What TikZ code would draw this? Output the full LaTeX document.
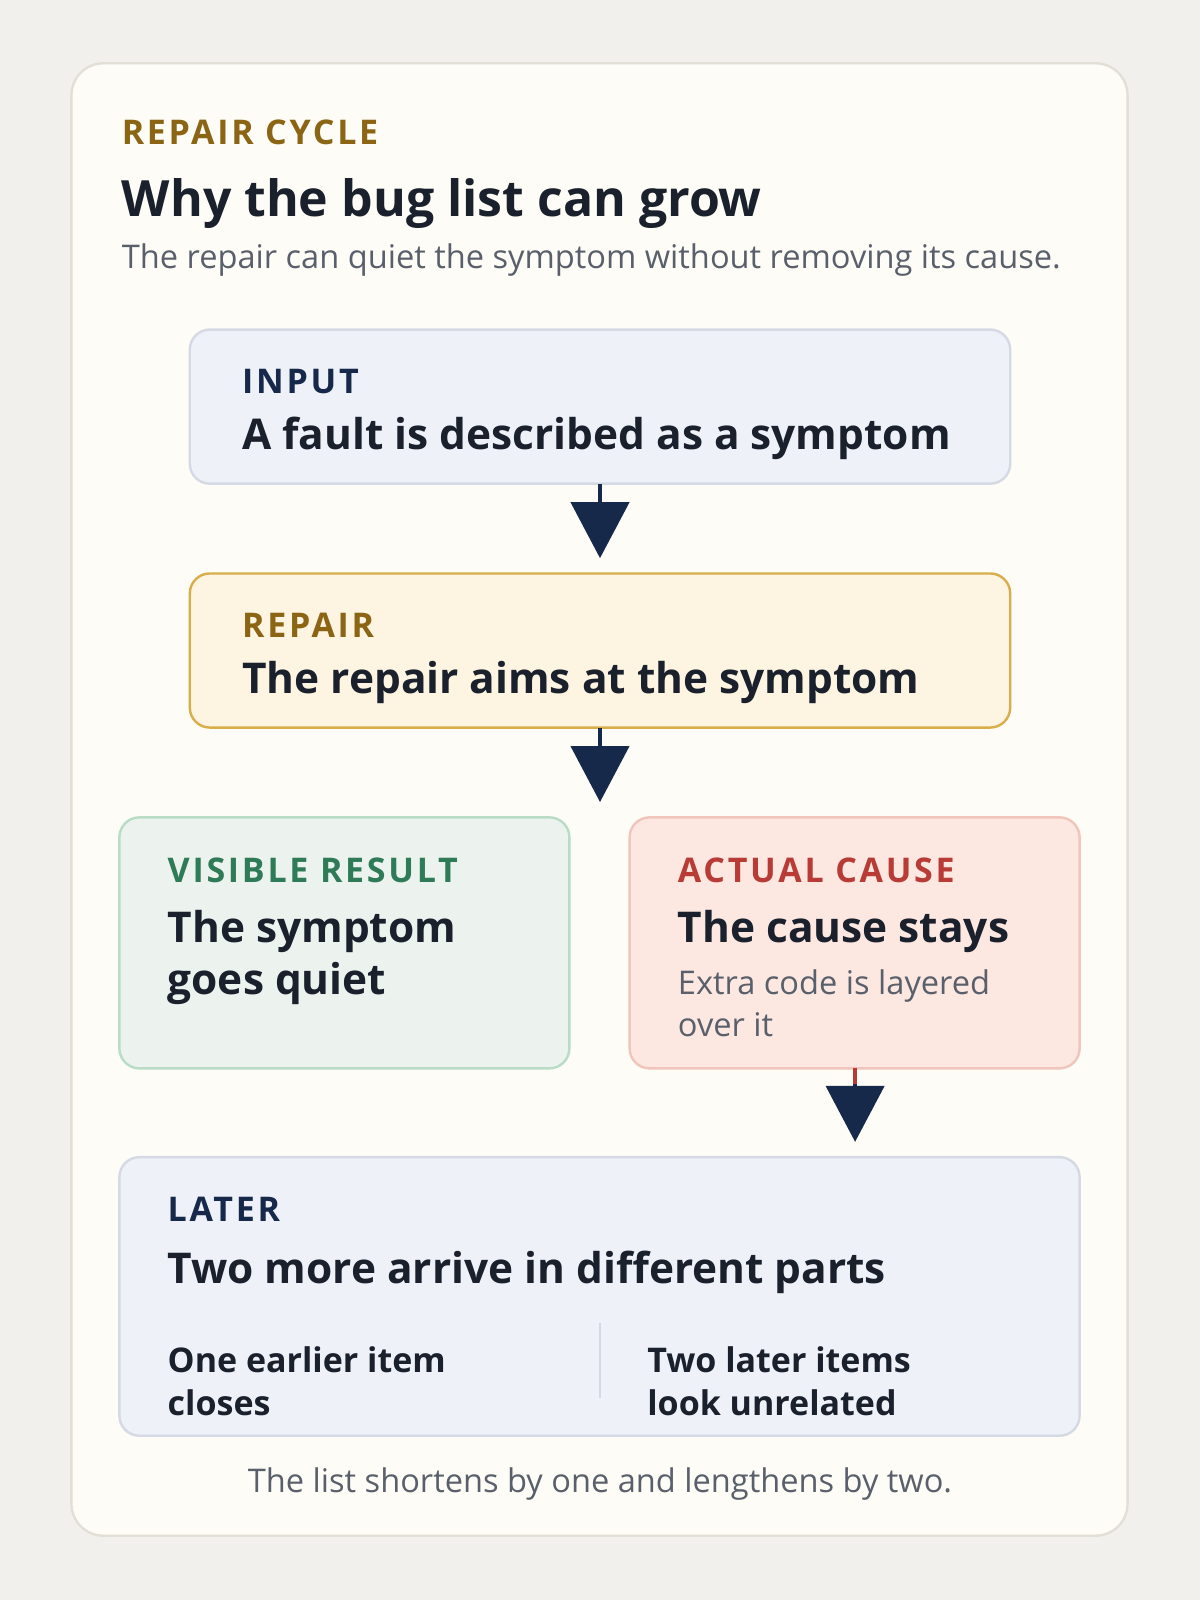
\documentclass[tikz,border=0pt]{standalone}
\usepackage{fontspec}
\setmainfont{Open Sans}
\newfontfamily\lblfont[LetterSpace=8]{Open Sans}
\usetikzlibrary{arrows.meta}
\definecolor{bg}{HTML}{F1F0EC}
\definecolor{card}{HTML}{FDFCF6}
\definecolor{cardb}{HTML}{E2E0D6}
\definecolor{navy}{HTML}{16294A}
\definecolor{ink}{HTML}{1A202C}
\definecolor{gray}{HTML}{5A606B}
\definecolor{gold}{HTML}{8B6414}
\definecolor{bluef}{HTML}{EEF1F8}
\definecolor{blueb}{HTML}{D5D9E4}
\definecolor{yelf}{HTML}{FDF4E1}
\definecolor{yelb}{HTML}{D9AE4A}
\definecolor{grnf}{HTML}{ECF3EE}
\definecolor{grnb}{HTML}{B9DCC6}
\definecolor{grn}{HTML}{2F7A57}
\definecolor{redf}{HTML}{FCE7E1}
\definecolor{redb}{HTML}{F0C6BC}
\definecolor{red}{HTML}{B83C35}
\begin{document}
\begin{tikzpicture}[x=0.5102pt,y=-0.5102pt,
  box/.style={draw, line width=1.2pt, rounded corners=10pt},
  lbl/.style={anchor=base west, inner sep=0pt, font=\lblfont\bfseries\fontsize{17}{20}\selectfont},
  head/.style={anchor=base west, inner sep=0pt, text=ink, font=\bfseries\fontsize{21.2}{26}\selectfont},
  small/.style={anchor=base west, inner sep=0pt, text=ink, font=\bfseries\fontsize{17}{21}\selectfont},
  sub/.style={anchor=base west, inner sep=0pt, text=gray, font=\fontsize{16.3}{20.5}\selectfont},
  arr/.style={line width=2.2pt, navy, -{Triangle[length=28pt,width=29pt]}}]
\useasboundingbox (0,0) rectangle (1176,1568);
\fill[bg] (0,0) rectangle (1176,1568);
\draw[fill=card, draw=cardb, line width=1.2pt, rounded corners=16pt] (70,62) rectangle (1105,1505);
\node[lbl, text=gold] (kick) at (119,142) {REPAIR CYCLE};
\node[head, font=\bfseries\fontsize{25}{28}\selectfont] (title) at (119,212) {Why the bug list can grow};
\node[sub] (subt) at (119,263) {The repair can quiet the symptom without removing its cause.};

\draw[box, fill=bluef, draw=blueb] (186,323) rectangle (990,474);
\coordinate (inS) at (588,474);
\node[lbl, text=navy] (inl) at (237,386) {INPUT};
\node[head] (int) at (237,441) {A fault is described as a symptom};

\draw[box, fill=yelf, draw=yelb] (186,562) rectangle (990,713);
\coordinate (reN) at (588,547);
\coordinate (reS) at (588,713);
\node[lbl, text=gold] (rel) at (237,625) {REPAIR};
\node[head] (ret) at (237,680) {The repair aims at the symptom};

\draw[box, fill=grnf, draw=grnb] (117,801) rectangle (558,1047);
\node[lbl, text=grn] (vil) at (164,865) {VISIBLE RESULT};
\node[head] (vit1) at (164,924) {The symptom};
\node[head] (vit2) at (164,975) {goes quiet};

\draw[box, fill=redf, draw=redb] (617,801) rectangle (1058,1047);
\coordinate (caS) at (838,1047);
\coordinate (caM) at (838,1062);
\coordinate (spN) at (588,786);
\node[lbl, text=red] (cal) at (664,865) {ACTUAL CAUSE};
\node[head] (cat) at (664,924) {The cause stays};
\node[sub] (cas1) at (664,975) {Extra code is layered};
\node[sub] (cas2) at (664,1016) {over it};

\draw[box, fill=bluef, draw=blueb] (117,1134) rectangle (1058,1407);
\coordinate (laN) at (838,1119);
\node[lbl, text=navy] (lal) at (164,1197) {LATER};
\node[head] (lat) at (164,1258) {Two more arrive in different parts};
\coordinate (d1) at (588,1297);
\coordinate (d2) at (588,1370);
\draw[blueb, line width=1.2pt] (d1) -- (d2);
\node[small] (lx1a) at (164,1345) {One earlier item};
\node[small] (lx1b) at (164,1387) {closes};
\node[small] (lx2a) at (634,1345) {Two later items};
\node[small] (lx2b) at (634,1387) {look unrelated};
\node[inner sep=0pt, anchor=base, text=gray, font=\fontsize{16.3}{20}\selectfont] (foot) at (588,1463) {The list shortens by one and lengthens by two.};

\draw[arr] (inS) -- (reN);
\draw[arr] (reS) -- (spN);
\draw[line width=2.2pt, red] (caS) -- (caM);
\draw[arr] (caM) -- (laN);
\end{tikzpicture}
\end{document}
